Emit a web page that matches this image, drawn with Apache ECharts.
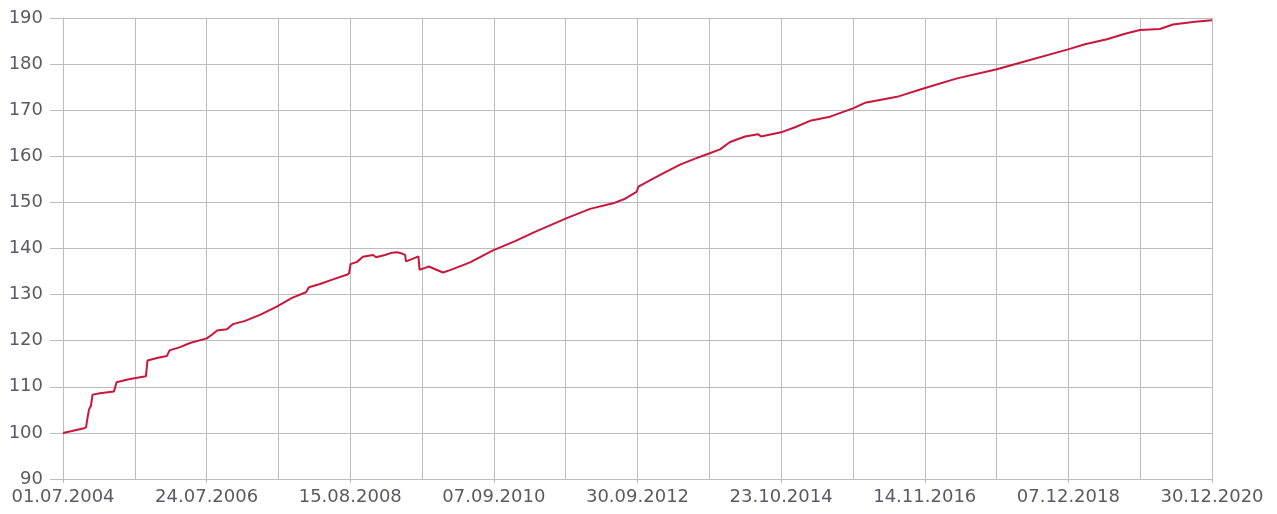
<!DOCTYPE html>
<html>
<head>
<meta charset="utf-8">
<script src="https://cdn.jsdelivr.net/npm/echarts@6/dist/echarts.min.js"></script>
<style>
  html, body { margin: 0; padding: 0; background: #fff; }
  #chart { width: 1277px; height: 514px; }
</style>
</head>
<body>
<div id="chart"></div>
<script>
'use strict';

// start of the series, x values are days counted from it
var startDate = Date.UTC(2004, 6, 1);
var totalDays = 6026; // 01.07.2004 .. 30.12.2020

// days since 01.07.2004
var dayOffsets = [
    0, 47, 110, 121, 126, 136, 147, 155, 194, 267, 281, 351, 435, 443, 498, 545, 559, 614, 666,
    754, 781, 808, 860, 892, 955, 1033, 1121, 1201, 1274, 1290, 1348, 1416, 1488, 1500, 1508,
    1542, 1573, 1626, 1642, 1689, 1725, 1752, 1778, 1794, 1799, 1836, 1864, 1870, 1899, 1919,
    1946, 1993, 2030, 2135, 2255, 2371, 2475, 2642, 2764, 2885, 2948, 3008, 3018, 3078, 3157,
    3236, 3315, 3388, 3446, 3498, 3577, 3645, 3661, 3766, 3839, 3918, 4023, 4143, 4206, 4374,
    4521, 4689, 4898, 5071, 5271, 5360, 5475, 5570, 5648, 5753, 5821, 5937, 6026
];

// index values, 01.07.2004 = 100
var indexValues = [
    100.0, 100.4, 101.0, 101.2, 102.6, 105.0, 106.0, 108.3, 108.6, 109.0, 111.0, 111.7, 112.3, 115.7, 116.3, 116.7, 117.9, 118.6, 119.5,
    120.5, 121.3, 122.2, 122.5, 123.6, 124.3, 125.6, 127.4, 129.3, 130.5, 131.6, 132.3, 133.3, 134.3, 134.6, 136.6,
    137.1, 138.2, 138.6, 138.1, 138.6, 139.1, 139.2, 138.9, 138.6, 137.2, 137.8, 138.3, 135.4, 135.8, 136.1,
    135.6, 134.8, 135.3, 137.0, 139.6, 141.6, 143.6, 146.6, 148.6, 149.8, 150.8, 152.3, 153.4, 154.8, 156.5,
    158.2, 159.5, 160.6, 161.5, 163.1, 164.3, 164.8, 164.3, 165.2, 166.3, 167.7, 168.6, 170.4, 171.6, 172.9,
    174.8, 176.9, 178.9, 180.9, 183.2, 184.3, 185.4, 186.6, 187.4, 187.6, 188.6, 189.2, 189.5
];

var yMin = 90;
var yMax = 190;
var yStep = 10;

function pad2(n) {
    return (n < 10 ? '0' : '') + n;
}

function dayLabel(v) {
    var d = new Date(startDate + Math.round(v * 4) / 4 * 86400000);
    return pad2(d.getUTCDate()) + '.' + pad2(d.getUTCMonth() + 1) + '.' + d.getUTCFullYear();
}

var seriesData = [];
for (var i = 0; i < dayOffsets.length; i++) {
    seriesData.push([dayOffsets[i], indexValues[i]]);
}

var gridColor = '#bcbcbc';
var labelColor = '#5a5a64';

var chart = echarts.init(document.getElementById('chart'));

var option = {
    animation: false,
    backgroundColor: '#fff',
    grid: {
        left: 63,
        right: 65,
        top: 18,
        bottom: 35,
        containLabel: false
    },
    xAxis: {
        type: 'value',
        min: 0,
        max: totalDays,
        interval: totalDays / 8,
        axisLine: { show: true, lineStyle: { color: gridColor, width: 1 } },
        axisTick: { show: true, length: 4, lineStyle: { color: gridColor } },
        minorTick: { show: false, splitNumber: 2 },
        splitLine: { show: true, lineStyle: { color: gridColor, width: 1 } },
        minorSplitLine: { show: true, lineStyle: { color: gridColor, width: 1 } },
        axisLabel: {
            color: labelColor,
            fontFamily: 'DejaVu Sans',
            fontSize: 18,
            margin: 9,
            showMinLabel: true,
            showMaxLabel: true,
            hideOverlap: false,
            formatter: dayLabel
        }
    },
    yAxis: {
        type: 'value',
        min: yMin,
        max: yMax,
        interval: yStep,
        axisLine: { show: true, lineStyle: { color: gridColor, width: 1 } },
        axisTick: { show: true, length: 13, lineStyle: { color: gridColor } },
        splitLine: { show: true, lineStyle: { color: gridColor, width: 1 } },
        axisLabel: {
            color: labelColor,
            fontFamily: 'DejaVu Sans',
            fontSize: 18,
            margin: 20
        }
    },
    series: [{
        type: 'line',
        data: seriesData,
        symbol: 'none',
        smooth: false,
        lineStyle: { color: '#c8173a', width: 2 },
        itemStyle: { color: '#c8173a' }
    }]
};

chart.setOption(option);
</script>
</body>
</html>
